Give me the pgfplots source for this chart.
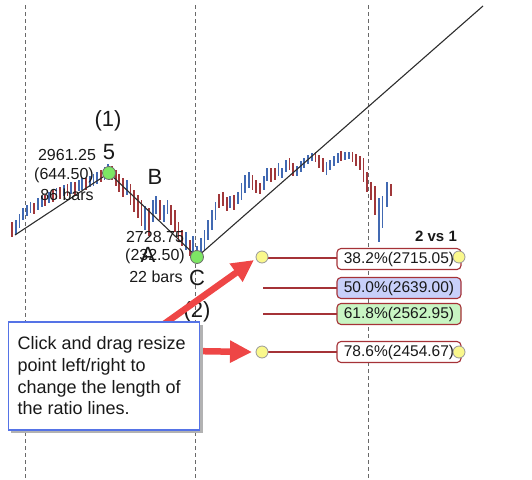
\documentclass[border=0pt]{standalone}
\usepackage{pgfplots}
\pgfplotsset{compat=1.18}
\usepackage{pgfplotstable}
\usepackage{fontspec}
\setmainfont{Liberation Sans}
\usetikzlibrary{arrows.meta}
\definecolor{barblue}{RGB}{65,105,178}
\definecolor{barred}{RGB}{160,55,58}
\definecolor{dashgray}{RGB}{105,105,105}
\definecolor{linegray}{RGB}{45,45,45}
\definecolor{ptgreen}{RGB}{125,230,100}
\definecolor{ptyellow}{RGB}{250,248,140}
\definecolor{ratiored}{RGB}{165,50,55}
\definecolor{fillblue}{RGB}{200,208,250}
\definecolor{fillgreen}{RGB}{200,245,195}
\definecolor{arrowred}{RGB}{238,70,70}
\definecolor{callblue}{RGB}{85,115,230}
\definecolor{txt}{RGB}{25,25,25}
\newcommand\fs[1]{\fontsize{#1}{#1}\selectfont}

% bars: x, top, bottom (pixel coordinates, y downward)
\pgfplotstableread{
x top bot
15.7 220 234
19.4 214 228
23.1 208 220
26.8 205 216
30.5 202 213
37.9 198 210
41.6 196 207
49 192 203
56.4 188 199
63.8 185 196
71.2 182 194
78.6 180 191
82.3 178 190
89.7 176 187
93.4 174 186
97.1 172 184
104.5 167 180
108.2 164 176
126.7 180 195
145.2 206 230
152.6 200 222
156.3 196 214
163.7 205 222
167.4 200 214
185.9 232 250
193.3 236 252
197 246 262
200.7 238 256
204.4 230 250
208.1 220 240
211.8 210 230
215.5 202 220
230.3 196 208
237.7 192 204
241.4 183 200
245.1 175 193
248.8 172 188
263.6 176 190
267.3 168 181
278.4 163 176
282.1 168 178
285.8 160 172
296.9 166 176
300.6 161 172
304.3 158 168
308 155 164
311.7 153 161
326.5 162 175
330.2 160 170
333.9 156 166
337.6 153 163
345 152 160
348.7 152 159
379 198 242
382.5 196 228
387 182 207
}\upbars
\pgfplotstableread{
x top bot
12 222 237
34.2 203 214
45.3 195 206
52.7 190 202
60.1 187 199
67.5 184 196
74.9 182 195
86 178 190
100.8 170 182
111.9 166 180
115.6 170 186
119.3 174 192
123 178 197
130.4 184 205
134.1 190 212
137.8 195 218
141.5 200 226
148.9 208 236
160 200 220
171.1 205 225
174.8 210 232
178.5 222 242
182.2 230 246
189.6 240 256
219.2 194 208
222.9 192 206
226.6 197 211
234 195 210
252.5 175 190
256.2 180 193
259.9 183 194
271 168 182
274.7 168 180
289.5 158 170
293.2 163 176
315.4 152 162
319.1 155 168
322.8 158 172
341.3 151 161
352.4 152 162
356.1 154 166
359.8 156 170
363.5 158 182
367.2 172 192
371 182 200
375 186 215
391 184 196
}\downbars

\begin{document}
\begin{tikzpicture}
\begin{axis}[width=532pt,height=479pt,scale only axis,
  xmin=0,xmax=532,ymin=0,ymax=479,y dir=reverse,
  hide axis,clip=false]
\draw[draw=none] (axis cs:0,0) rectangle (axis cs:532,479);

% price bars
\addplot[draw=none,mark=none,forget plot,
  error bars/.cd,y dir=plus,y explicit,error mark=none,
  error bar style={draw=barblue,line width=1.8pt}]
  table[x=x,y=top,y error plus expr=\thisrow{bot}-\thisrow{top}] {\upbars};
\addplot[draw=none,mark=none,forget plot,
  error bars/.cd,y dir=plus,y explicit,error mark=none,
  error bar style={draw=barred,line width=1.8pt}]
  table[x=x,y=top,y error plus expr=\thisrow{bot}-\thisrow{top}] {\downbars};

% dashed verticals
\addplot[dashgray,line width=1pt,dash pattern=on 4pt off 3pt] coordinates {(25,5) (25,479)};
\addplot[dashgray,line width=1pt,dash pattern=on 4pt off 3pt] coordinates {(195.5,5) (195.5,479)};
\addplot[dashgray,line width=1pt,dash pattern=on 4pt off 3pt] coordinates {(368,5) (368,479)};

% wave lines
\addplot[linegray,line width=1.1pt] coordinates {(15,235) (109,173) (197,257) (483,6)};

% ratio lines
\addplot[ratiored,line width=1.3pt] coordinates {(263,258) (337,258)};
\addplot[ratiored,line width=1.3pt] coordinates {(263,288) (337,288)};
\addplot[ratiored,line width=1.3pt] coordinates {(263,314) (337,314)};
\addplot[ratiored,line width=1.3pt] coordinates {(263,352) (337,352)};

% labels on ratio lines
\node[draw=ratiored,fill=white,rounded corners=4pt,line width=1.1pt,minimum width=124pt,minimum height=21pt,inner sep=1pt,text=txt,font=\fs{15.5}] at (axis cs:399,259) {38.2\%(2715.05)};
\node[draw=ratiored,fill=fillblue,rounded corners=4pt,line width=1.1pt,minimum width=124pt,minimum height=21pt,inner sep=1pt,text=txt,font=\fs{15.5}] at (axis cs:399,288) {50.0\%(2639.00)};
\node[draw=ratiored,fill=fillgreen,rounded corners=4pt,line width=1.1pt,minimum width=124pt,minimum height=21pt,inner sep=1pt,text=txt,font=\fs{15.5}] at (axis cs:399,314) {61.8\%(2562.95)};
\node[draw=ratiored,fill=white,rounded corners=4pt,line width=1.1pt,minimum width=124pt,minimum height=21pt,inner sep=1pt,text=txt,font=\fs{15.5}] at (axis cs:399,352) {78.6\%(2454.67)};

% points
\addplot[only marks,mark=*,mark size=6.5pt,mark options={fill=ptgreen,draw=linegray!70,line width=0.8pt}] coordinates {(109,173) (197,257)};
\addplot[only marks,mark=*,mark size=6pt,mark options={fill=ptyellow,draw=gray!80,line width=0.8pt}] coordinates {(262,257) (459,257) (262,352) (459,352)};

% wave texts
\node[text=txt,font=\fs{22}] at (axis cs:108,121) {(1)};
\node[text=txt,font=\fs{22}] at (axis cs:109,152) {5};
\node[text=txt,font=\fs{22}] at (axis cs:155,177) {B};
\node[text=txt,font=\fs{22}] at (axis cs:148,255) {A};
\node[text=txt,font=\fs{22}] at (axis cs:197,278) {C};
\node[text=txt,font=\fs{22}] at (axis cs:197,312) {(2)};
\node[text=txt,font=\fs{16}] at (axis cs:67,155) {2961.25};
\node[text=txt,font=\fs{16}] at (axis cs:64,175) {(644.50)};
\node[text=txt,font=\fs{16}] at (axis cs:67,195) {86 bars};
\node[text=txt,font=\fs{16}] at (axis cs:155,237) {2728.75};
\node[text=txt,font=\fs{16}] at (axis cs:155,256) {(232.50)};
\node[text=txt,font=\fs{16}] at (axis cs:156,277) {22 bars};
\node[text=txt,font=\fs{15}\bfseries] at (axis cs:436,236) {2 vs 1};

% arrows
\addplot[arrowred,line width=6.5pt,-{Triangle[length=22pt,width=21pt]}] coordinates {(150,334) (254,260)};
\addplot[arrowred,line width=6.5pt,-{Triangle[length=22pt,width=21pt]}] coordinates {(190,351) (252,352)};

% callout
\fill[black!30] (axis cs:11,325) rectangle (axis cs:203,433);
\draw[callblue,fill=white,line width=1.3pt] (axis cs:8.5,322) rectangle (axis cs:199.5,430);
\node[anchor=base west,text=txt,font=\fs{18}] at (axis cs:14,349.5) {Click and drag resize};
\node[anchor=base west,text=txt,font=\fs{18}] at (axis cs:14,371.3) {point left/right to};
\node[anchor=base west,text=txt,font=\fs{18}] at (axis cs:14,393.1) {change the length of};
\node[anchor=base west,text=txt,font=\fs{18}] at (axis cs:14,414.9) {the ratio lines.};
\end{axis}
\end{tikzpicture}
\end{document}
